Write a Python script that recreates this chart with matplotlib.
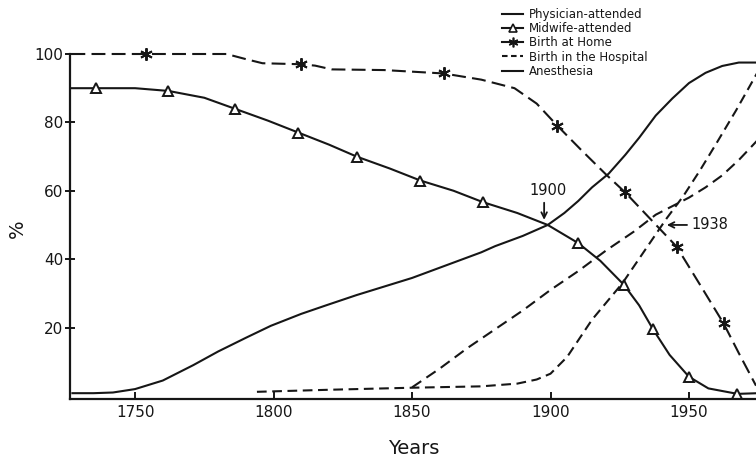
import matplotlib
matplotlib.use('Agg')
import matplotlib.pyplot as plt
from matplotlib.lines import Line2D

plt.rcParams['font.family'] = ['DejaVu Sans']
plt.rcParams['lines.scale_dashes'] = False

INK = '#161616'

# ---------------- data ----------------
phys_years = [1727, 1735, 1742, 1750, 1760, 1771, 1780, 1790, 1799, 1810, 1819,
              1830, 1840, 1850, 1860, 1870, 1875, 1880, 1890, 1899, 1905, 1910,
              1915, 1921, 1927, 1932, 1938, 1944, 1950, 1956, 1962, 1968, 1975]
phys_vals = [0.8, 0.8, 1.0, 2.0, 4.5, 9.0, 13.0, 17.0, 20.5, 24.0, 26.5,
             29.5, 32.0, 34.5, 37.5, 40.5, 42.0, 43.8, 46.8, 50.0, 53.5, 57.0,
             61.0, 65.0, 70.5, 75.5, 82.0, 87.0, 91.5, 94.5, 96.5, 97.5, 97.5]

mid_years = [1727, 1736, 1750, 1762, 1775, 1786, 1798, 1809, 1820, 1830, 1842,
             1853, 1865, 1875.5, 1888, 1899, 1910, 1918, 1926.5, 1932, 1937,
             1943, 1950, 1957, 1967.5, 1975]
mid_vals = [90, 90, 90, 89.2, 87.2, 84, 80.5, 77, 73.5, 70, 66.5,
            63, 60, 56.7, 53.5, 50, 44.7, 39.5, 32.5, 26.5, 19.5,
            12, 5.6, 2.2, 0.6, 0.8]
mid_marks = [1, 3, 5, 7, 9, 11, 13, 16, 18, 20, 22, 24]

home_years = [1727, 1754, 1783, 1790, 1796, 1810, 1815, 1821, 1840, 1861.5,
              1875, 1887, 1895, 1902.5, 1911, 1920, 1927, 1936, 1945.5, 1954,
              1962.5, 1968, 1974.2]
home_vals = [100, 100, 100, 98.5, 97.3, 97, 96.6, 95.5, 95.3, 94.3,
             92.5, 90, 85.5, 79, 72, 64.8, 59.5, 51.8, 43.7, 32.5,
             21.2, 12.5, 3.0]
home_marks = [1, 5, 9, 13, 16, 18, 20]

hosp_years = [1794, 1820, 1850, 1875, 1888, 1895, 1900, 1906, 1915, 1926,
              1935, 1942, 1948, 1954, 1960, 1967, 1975]
hosp_vals = [1.2, 1.8, 2.4, 2.8, 3.6, 4.8, 6.5, 11.4, 22.3, 33,
             43.7, 52, 58.5, 66, 74, 83.5, 95]

anes_years = [1850, 1860, 1870, 1880, 1890, 1900, 1910, 1920, 1930, 1938,
              1944, 1950, 1956, 1962, 1968, 1975]
anes_vals = [2.5, 8, 14, 19.5, 25, 31, 36.5, 42.5, 48, 53,
             55.5, 58, 61, 64.5, 69, 75]

labels = ['Physician-attended', 'Midwife-attended', 'Birth at Home',
          'Birth in the Hospital', 'Anesthesia']
x_ticks = [1750, 1800, 1850, 1900, 1950]
y_ticks = [20, 40, 60, 80, 100]

# ---------------- figure ----------------
fig = plt.figure(figsize=(7.56, 4.58), dpi=100)
ax = fig.add_axes([70 / 756, 59 / 458, 686 / 756, 345 / 458])

LW = 1.5
STAR = (6, 2, 0)

ax.plot(phys_years, phys_vals, color=INK, lw=LW, solid_capstyle='butt')
ax.plot(mid_years, mid_vals, color=INK, lw=LW, marker='^', markevery=mid_marks,
        markersize=7.5, markerfacecolor='white', markeredgecolor=INK,
        markeredgewidth=1.4)
ax.plot(home_years, home_vals, color=INK, lw=LW, dashes=(10, 4.5),
        marker=STAR, markevery=home_marks, markersize=9,
        markeredgewidth=1.4, markeredgecolor=INK, clip_on=False)
ax.plot(hosp_years, hosp_vals, color=INK, lw=LW, dashes=(7, 4))
ax.plot(anes_years, anes_vals, color=INK, lw=LW, dashes=(8, 4.5))

ax.set_xlim(1726.5, 1974.2)
ax.set_ylim(-0.9, 100)

for s in ('top', 'right'):
    ax.spines[s].set_visible(False)
for s in ('left', 'bottom'):
    ax.spines[s].set_linewidth(1.6)
    ax.spines[s].set_color(INK)

ax.set_xticks(x_ticks)
ax.set_yticks(y_ticks)
ax.tick_params(axis='x', direction='in', length=5, width=1.4, labelsize=11,
               pad=4, colors=INK)
ax.tick_params(axis='y', direction='inout', length=7, width=1.4, labelsize=11,
               pad=1.5, colors=INK)

fig.text(414 / 756, 1 - 448 / 458, 'Years', ha='center', va='center',
         fontsize=14, color=INK)
fig.text(17 / 756, 1 - 229 / 458, '%', ha='center', va='center',
         fontsize=14, rotation=90, color=INK)

# annotations
ax.annotate('', xy=(1897.7, 51.5), xytext=(1897.7, 56.5),
            arrowprops=dict(arrowstyle='->', color=INK, lw=1.3,
                            shrinkA=0, shrinkB=0))
ax.text(1899.2, 60, '1900', ha='center', va='center', fontsize=10.5, color=INK)
ax.annotate('', xy=(1942, 50), xytext=(1949.3, 50),
            arrowprops=dict(arrowstyle='->', color=INK, lw=1.3,
                            shrinkA=0, shrinkB=0))
ax.text(1951, 50, '1938', ha='left', va='center', fontsize=10.5, color=INK)

# legend
handles = [
    Line2D([], [], color=INK, lw=LW),
    Line2D([], [], color=INK, lw=LW, marker='^', markersize=6,
           markerfacecolor='white', markeredgecolor=INK, markeredgewidth=1.2),
    Line2D([], [], color=INK, lw=LW, marker=STAR, markersize=7,
           markeredgewidth=1.2),
    Line2D([], [], color=INK, lw=LW, dashes=(4, 2.5)),
    Line2D([], [], color=INK, lw=LW),
]
leg = ax.legend(handles, labels, loc='upper left',
                bbox_to_anchor=(502 / 756, 1 - 8 / 458),
                bbox_transform=fig.transFigure, frameon=False, borderpad=0,
                borderaxespad=0, handlelength=1.8, handletextpad=0.5,
                labelspacing=0.1, fontsize=8.5, numpoints=1)
for t in leg.get_texts():
    t.set_color(INK)

fig.savefig('out.png', dpi=100, facecolor='white')
